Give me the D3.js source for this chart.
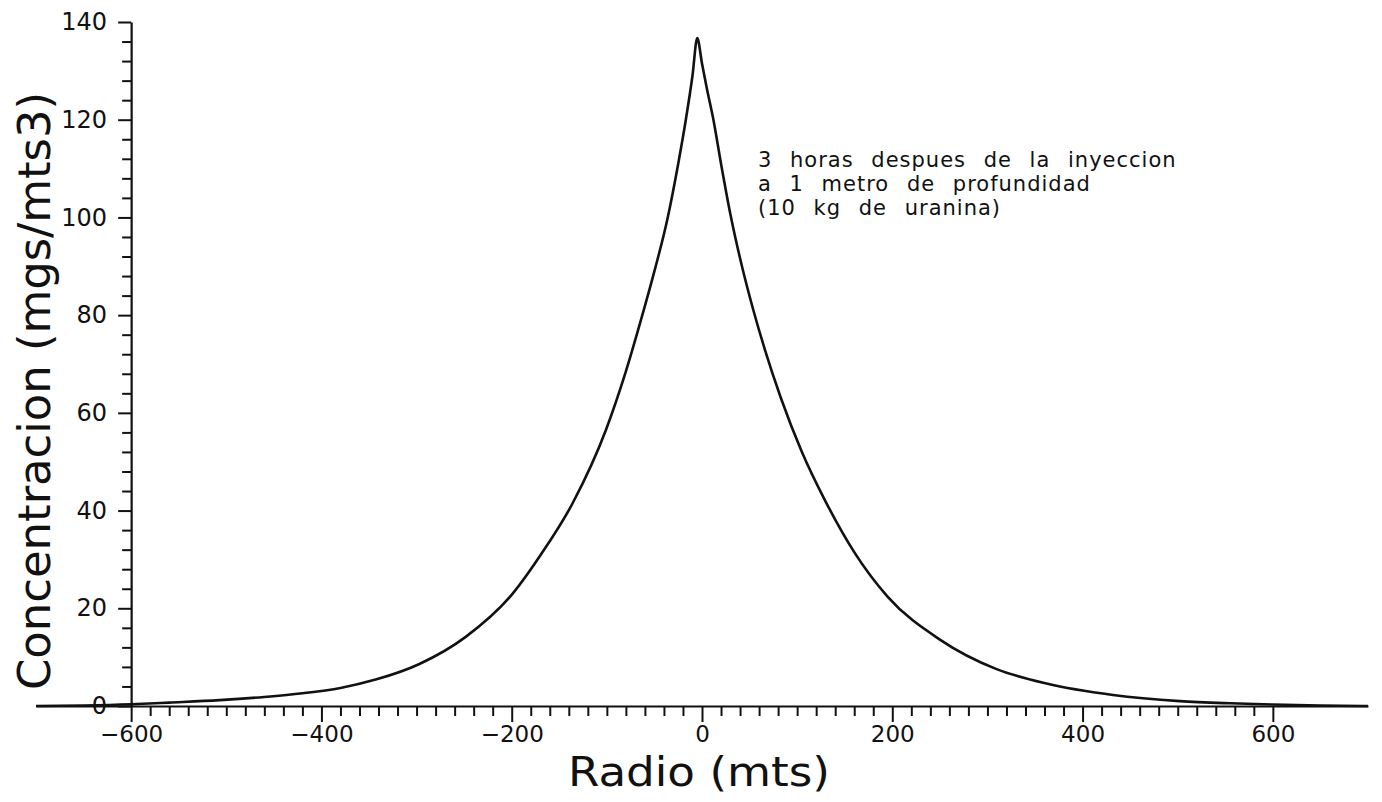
<!DOCTYPE html>
<html>
<head>
<meta charset="utf-8">
<script src="https://cdn.jsdelivr.net/npm/d3@7"></script>
<style>
  html, body { margin: 0; padding: 0; background: #fff; }
  svg { display: block; }
  text { font-family: "DejaVu Sans", "Liberation Sans", sans-serif; fill: #111; }
</style>
</head>
<body>
<svg id="chart" width="1382" height="802"></svg>
<script>
// ---- data ----
const radio = [-700, -650, -600, -560, -507, -460, -420, -380, -343, -297, -248, -199, -170, -136, -101, -80, -62, -50, -36, -25, -17, -10, -5, 0, 5, 12, 20, 30, 42, 54, 66, 83, 105, 129, 160, 195, 250, 309, 362, 432, 502, 555, 600, 650, 700];
const concentracion = [0.0, 0.1, 0.35, 0.7, 1.2, 1.85, 2.6, 3.7, 5.4, 8.6, 14.2, 23.0, 30.8, 41.5, 56.5, 68.5, 80.5, 89.0, 100.0, 111.0, 120.0, 129.0, 136.7, 131.5, 126.5, 120.0, 111.0, 100.5, 90.0, 81.0, 73.0, 63.0, 52.0, 42.2, 31.5, 22.4, 13.6, 7.6, 4.6, 2.25, 1.0, 0.55, 0.3, 0.1, 0.0];
const xMajorTicks = [-600, -400, -200, 0, 200, 400, 600];
const yMajorTicks = [0, 20, 40, 60, 80, 100, 120, 140];
const annotationLines = ["3 horas despues de la inyeccion", "a 1 metro de profundidad", "(10 kg de uranina)"];
const xTitle = "Radio (mts)";
const yTitle = "Concentracion (mgs/mts3)";

const svg = d3.select("#chart");
const x = d3.scaleLinear().domain([-700, 700]).range([36, 1368]);
const y = d3.scaleLinear().domain([0, 140]).range([706, 22]);

const xMinor = d3.range(-600, 601, 20).filter(v => !xMajorTicks.includes(v));
const yMinor = d3.range(0, 141, 4).filter(v => !yMajorTicks.includes(v));

// X axis line across full domain
const gx = svg.append("g").attr("transform", `translate(0,${y(0)})`);
gx.call(d3.axisBottom(x).tickValues(xMinor).tickSize(10).tickSizeOuter(0).tickFormat(""));
const gx2 = svg.append("g").attr("transform", `translate(0,${y(0)})`);
gx2.call(d3.axisBottom(x).tickValues(xMajorTicks).tickSize(16).tickSizeOuter(0)
  .tickFormat(d => d < 0 ? "\u2212" + Math.abs(d) : String(d)));
gx2.select(".domain").remove();
gx2.selectAll("text").attr("y", 20).attr("dy", "0.71em").style("font-size", "23px").style("font-family", "DejaVu Sans");

// Y axis at x = -600
const gy = svg.append("g").attr("transform", `translate(${x(-600)},0)`);
gy.call(d3.axisLeft(y).tickValues(yMinor).tickSize(9).tickSizeOuter(0).tickFormat(""));
const gy2 = svg.append("g").attr("transform", `translate(${x(-600)},0)`);
gy2.call(d3.axisLeft(y).tickValues(yMajorTicks).tickSize(13).tickSizeOuter(0).tickFormat(d3.format("d")));
gy2.select(".domain").remove();
gy2.selectAll("text").attr("x", -24).style("font-size", "24px").style("font-family", "DejaVu Sans");

svg.selectAll(".domain").attr("stroke", "#111").attr("stroke-width", 2.2);
svg.selectAll(".tick line").attr("stroke", "#111").attr("stroke-width", 2);

// Curve
const line = d3.line().x((d, i) => x(radio[i])).y(d => y(d)).curve(d3.curveMonotoneX);
svg.append("path")
  .datum(concentracion)
  .attr("d", line)
  .attr("fill", "none")
  .attr("stroke", "#111")
  .attr("stroke-width", 2.6)
  .attr("stroke-linejoin", "round");

// Axis titles
svg.append("text")
  .attr("x", 699).attr("y", 786)
  .attr("text-anchor", "middle")
  .attr("textLength", 262).attr("lengthAdjust", "spacingAndGlyphs")
  .style("font-size", "40px")
  .text(xTitle);

svg.append("text")
  .attr("transform", "translate(50,391) rotate(-90)")
  .attr("text-anchor", "middle")
  .attr("textLength", 598).attr("lengthAdjust", "spacingAndGlyphs")
  .style("font-size", "44px")
  .text(yTitle);

// Annotation: wide word gaps like the plotter font
const annBase = [167, 191, 215];
annotationLines.forEach((t, i) =>
  svg.append("text")
    .attr("x", 758).attr("y", annBase[i])
    .style("font-size", "21px")
    .style("letter-spacing", "1px")
    .style("word-spacing", "10px")
    .text(t));
</script>
</body>
</html>
